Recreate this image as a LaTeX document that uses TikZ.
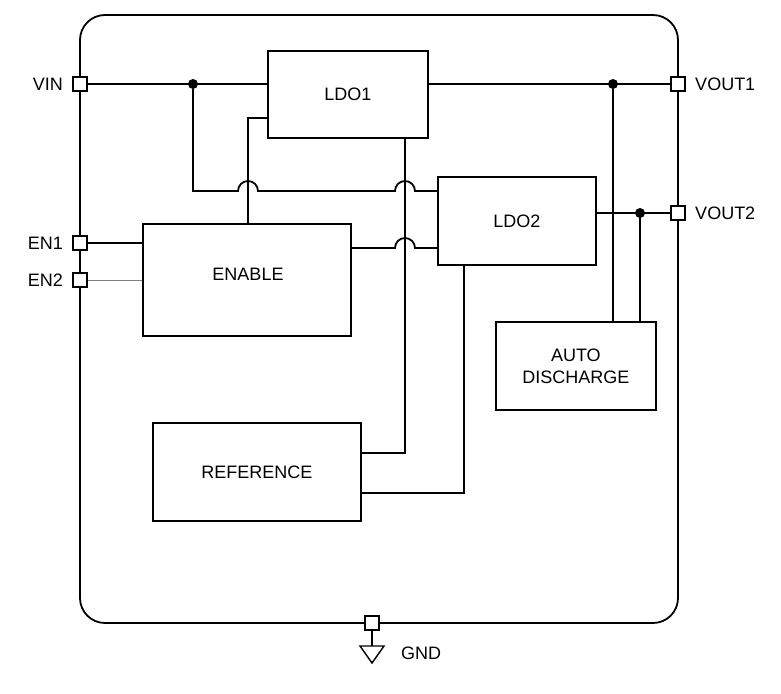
\documentclass[tikz,border=0pt]{standalone}
\usepackage{fontspec}
\setmainfont{Liberation Sans}
\usetikzlibrary{positioning}

\begin{document}
\begin{tikzpicture}[x=1pt,y=-1pt,
    block/.style={rectangle, draw, line width=1.8pt, anchor=north west, align=center, font=\fontsize{18}{22}\selectfont},
    pin/.style={rectangle, draw, fill=white, line width=1.4pt, minimum size=14pt, inner sep=0pt},
    wire/.style={line width=1.8pt},
    lbl/.style={font=\fontsize{18}{22}\selectfont},
    dot/.style={circle, fill, inner sep=0pt, minimum size=10pt}
]
\useasboundingbox (0,0) rectangle (781,693);

% package outline
\draw[line width=1.8pt, rounded corners=25pt] (80,15) rectangle (678,623);

% blocks
\node[block, minimum width=160pt, minimum height=87pt] (ldo1) at (267,50) {LDO1};
\node[block, minimum width=158pt, minimum height=88pt] (ldo2) at (437,176) {LDO2};
\node[block, minimum width=208pt, minimum height=112pt] (enable) at (142,223) {};
\node[lbl] at (248,274) {ENABLE};
\node[block, minimum width=208pt, minimum height=98pt] (ref) at (152,422) {REFERENCE};
\node[block, minimum width=160pt, minimum height=88pt] (auto) at (495,321) {AUTO\\DISCHARGE};

% pins
\node[pin] (vin) at (80,84) {};
\node[pin] (en1) at (80,243) {};
\node[pin] (en2) at (80,280) {};
\node[pin] (vout1) at (678,84) {};
\node[pin] (vout2) at (678,213) {};
\node[pin] (gnd) at (372,623) {};
\node[lbl, left=6pt of vin] {VIN};
\node[lbl, left=6pt of en1] {EN1};
\node[lbl, left=6pt of en2] {EN2};
\node[lbl, right=6pt of vout1] {VOUT1};
\node[lbl, right=6pt of vout2] {VOUT2};
\node[lbl, right=18pt of gnd, yshift=-30pt] {GND};

% junctions
\node[dot] (jin) at (193,84) {};
\node[dot] (jout1) at (613,84) {};
\node[dot] (jout2) at (640,213) {};
\coordinate (hopA) at (248,191);
\coordinate (hopB) at (405,191);
\coordinate (hopC) at (405,248);

% connections
\draw[wire] (vin) -- (ldo1.west |- vin);
\draw[wire] (ldo1.east |- vout1) -- (vout1);
\draw[wire] (ldo2.east |- vout2) -- (vout2);
\draw[wire] (jin) |- ([xshift=-10pt]hopA) arc[start angle=180, end angle=0, radius=10pt]
    -- ([xshift=-10pt]hopB) arc[start angle=180, end angle=0, radius=10pt] -- (ldo2.west |- hopB);
\draw[wire] (ldo1.west |- 0,118) -| (enable.north -| hopA);
\draw[wire] (enable.east |- hopC) -- ([xshift=-10pt]hopC) arc[start angle=180, end angle=0, radius=10pt] -- (ldo2.west |- hopC);
\draw[wire] (ldo1.south -| hopB) -- (405,453) -- (ref.east |- 0,453);
\draw[wire] (ldo2.south -| 464,0) |- (ref.east |- 0,493);
\draw[wire] (jout1) -- (auto.north -| jout1);
\draw[wire] (jout2) -- (auto.north -| jout2);
\draw[wire] (en1) -- (enable.west |- en1);
\draw[gray, line width=1pt] (en2) -- (enable.west |- en2);
\node[pin] at (vin) {};
\node[pin] at (en1) {};
\node[pin] at (en2) {};

% ground
\coordinate (gtip) at (372,663);
\draw[wire] (gnd) -- (372,646);
\draw[line width=1.4pt] (360,646) -- (384,646) -- (gtip) -- cycle;
\node[pin] at (gnd) {};
\end{tikzpicture}
\end{document}
